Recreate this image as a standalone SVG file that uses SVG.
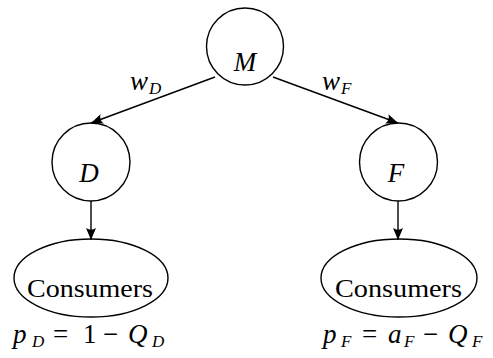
<svg xmlns="http://www.w3.org/2000/svg" width="493" height="358" viewBox="0 0 493 358">
<style>
.n{fill:none;stroke:#000;stroke-width:1.4}
.e{fill:none;stroke:#000;stroke-width:1.4}
text{fill:#000;font-family:"Liberation Serif","Times New Roman",Times,"Nimbus Roman","Nimbus Roman No9 L","DejaVu Serif","Noto Serif",serif}
.i{font-style:italic}
.big{font-size:27px}
.sub{font-size:17px;font-style:italic}
</style>
<defs>
<marker id="ah" markerUnits="userSpaceOnUse" markerWidth="16" markerHeight="12" viewBox="-13 -6 14 12" refX="0" refY="0" orient="auto">
<path d="M0,0 L-12,-5 Q-8.5,0 -12,5 Z" fill="#000"/>
</marker>
</defs>
<rect width="493" height="358" fill="#fff"/>
<g id="connectors">
<line class="e" x1="215" y1="77" x2="91" y2="123" marker-end="url(#ah)"/>
<line class="e" x1="273" y1="77" x2="398" y2="123" marker-end="url(#ah)"/>
<line class="e" x1="91" y1="201" x2="91" y2="240" marker-end="url(#ah)"/>
<line class="e" x1="398" y1="201" x2="398" y2="240" marker-end="url(#ah)"/>
<text class="big i" x="130" y="90">w<tspan class="sub" x="149" y="94">D</tspan></text>
<text class="big i" x="322" y="90">w<tspan class="sub" x="341" y="94">F</tspan></text>
</g>
<g id="M">
<circle class="n" cx="245" cy="46.5" r="38.5"/>
<text class="big i" x="245" y="71" text-anchor="middle">M</text>
</g>
<g id="D">
<circle class="n" cx="91" cy="162" r="39"/>
<text class="big i" x="89" y="182" text-anchor="middle">D</text>
</g>
<g id="F">
<circle class="n" cx="398.5" cy="162" r="39"/>
<text class="big i" x="396" y="182" text-anchor="middle">F</text>
</g>
<g id="ConsumersD">
<ellipse class="n" cx="91" cy="278" rx="77" ry="39"/>
<text font-size="26" x="27" y="297" textLength="126" lengthAdjust="spacingAndGlyphs">Consumers</text>
<text class="big"><tspan class="i" x="13" y="343">p</tspan><tspan class="sub" x="32" y="347">D</tspan><tspan x="53" y="343">=</tspan><tspan x="83" y="343">1</tspan><tspan x="103" y="343">−</tspan><tspan class="i" x="128" y="343">Q</tspan><tspan class="sub" x="152" y="347">D</tspan></text>
</g>
<g id="ConsumersF">
<ellipse class="n" cx="399" cy="278" rx="78" ry="39"/>
<text font-size="26" x="335" y="297" textLength="127" lengthAdjust="spacingAndGlyphs">Consumers</text>
<text class="big"><tspan class="i" x="323" y="343">p</tspan><tspan class="sub" x="341" y="347">F</tspan><tspan x="362" y="343">=</tspan><tspan class="i" x="388" y="343">a</tspan><tspan class="sub" x="404" y="347">F</tspan><tspan x="423" y="343">−</tspan><tspan class="i" x="448" y="343">Q</tspan><tspan class="sub" x="472" y="347">F</tspan></text>
</g>
</svg>
